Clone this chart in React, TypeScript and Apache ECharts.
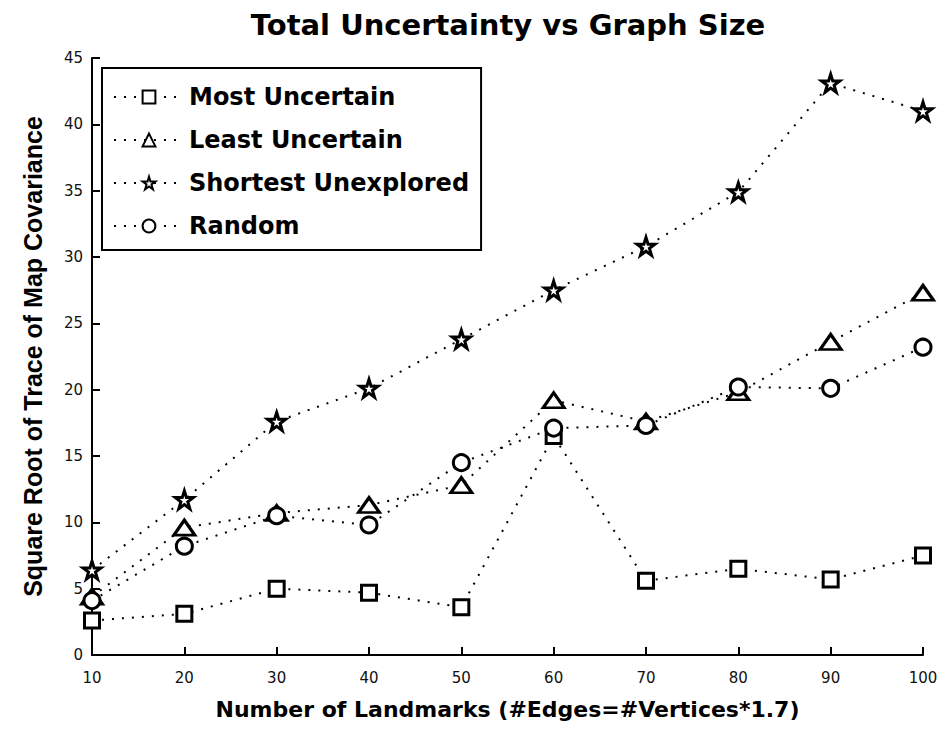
import React, { useEffect, useRef } from "react";
import * as echarts from "echarts";

const landmarks = [10, 20, 30, 40, 50, 60, 70, 80, 90, 100];
const mostUncertain = [2.6, 3.1, 5.0, 4.7, 3.6, 16.5, 5.6, 6.5, 5.7, 7.5];
const leastUncertain = [4.4, 9.6, 10.7, 11.3, 12.8, 19.2, 17.6, 19.8, 23.6, 27.3];
const shortestUnexplored = [6.4, 11.7, 17.6, 20.1, 23.8, 27.5, 30.8, 34.9, 43.1, 41.0];
const randomSel = [4.1, 8.2, 10.5, 9.8, 14.5, 17.1, 17.3, 20.2, 20.1, 23.2];
const seriesNames = ["Most Uncertain", "Least Uncertain", "Shortest Unexplored", "Random"];

const STAR =
  "path://M50,2 L61,36 L97,36 L68,57 L79,92 L50,71 L21,92 L32,57 L3,36 L39,36 Z";

const BOLD = "DejaVu Sans, sans-serif";

export default function App() {
  const ref = useRef<HTMLDivElement>(null);
  useEffect(() => {
    if (!ref.current) return;
    const chart = echarts.init(ref.current, null, { renderer: "svg" });
    const mk = (name: string, values: number[], symbol: string, size: any, bw: number) => ({
      name,
      type: "line",
      data: landmarks.map((x, i) => [x, values[i]]),
      symbol,
      symbolSize: size,
      showAllSymbol: true,
      lineStyle: { color: "#000", width: 2, type: [2, 8] },
      itemStyle: { color: "#fff", borderColor: "#000", borderWidth: bw },
      emphasis: { disabled: true },
    });
    chart.setOption({
      animation: false,
      backgroundColor: "#fff",
      title: {
        text: "Total Uncertainty vs Graph Size",
        left: 503,
        top: 5,
        textAlign: "center",
        textStyle: {
          fontFamily: BOLD,
          fontWeight: "bold",
          fontSize: 29,
          color: "#000",
        },
      },
      legend: {
        orient: "vertical",
        left: 102,
        top: 68,
        padding: [17, 12, 12, 11],
        backgroundColor: "#fff",
        borderColor: "#000",
        borderWidth: 2,
        itemWidth: 70,
        itemHeight: 16,
        itemGap: 19,
        data: seriesNames,
        textStyle: {
          fontFamily: BOLD,
          fontWeight: "bold",
          fontSize: 24,
          color: "#000",
        },
        selectedMode: false,
      },
      grid: { left: 92, right: 28, top: 58, bottom: 75, containLabel: false },
      xAxis: {
        type: "value",
        min: 10,
        max: 100,
        interval: 10,
        name: "Number of Landmarks (#Edges=#Vertices*1.7)",
        nameLocation: "middle",
        nameGap: 43,
        nameTextStyle: {
          fontFamily: BOLD,
          fontWeight: "bold",
          fontSize: 22,
          color: "#000",
        },
        axisLine: { lineStyle: { color: "#000", width: 2 } },
        axisTick: { inside: true, length: 8, lineStyle: { color: "#000", width: 2 } },
        axisLabel: {
          margin: 15,
          fontFamily: "DejaVu Sans, sans-serif",
          fontSize: 15,
          color: "#111",
        },
        splitLine: { show: false },
      },
      yAxis: {
        type: "value",
        min: 0,
        max: 45,
        interval: 5,
        name: "Square Root of Trace of Map Covariance",
        nameLocation: "middle",
        nameGap: 47,
        nameTextStyle: {
          fontFamily: "Liberation Sans, Arial, sans-serif",
          fontWeight: "bold",
          fontSize: 25,
          color: "#000",
        },
        axisLine: { show: true, lineStyle: { color: "#000", width: 2 } },
        axisTick: { show: true, inside: true, length: 8, lineStyle: { color: "#000", width: 2 } },
        axisLabel: {
          margin: 9,
          fontFamily: "DejaVu Sans, sans-serif",
          fontSize: 15,
          color: "#111",
        },
        splitLine: { show: false },
      },
      series: [
        mk(seriesNames[0], mostUncertain, "rect", 15, 3),
        mk(seriesNames[1], leastUncertain, "triangle", [21, 15], 3),
        mk(seriesNames[2], shortestUnexplored, STAR, 18, 3),
        mk(seriesNames[3], randomSel, "circle", 16, 3),
      ],
    });
    return () => chart.dispose();
  }, []);
  return (
    <div
      ref={ref}
      style={{ position: "fixed", left: 0, top: 0, width: 951, height: 730, background: "#fff" }}
    />
  );
}
